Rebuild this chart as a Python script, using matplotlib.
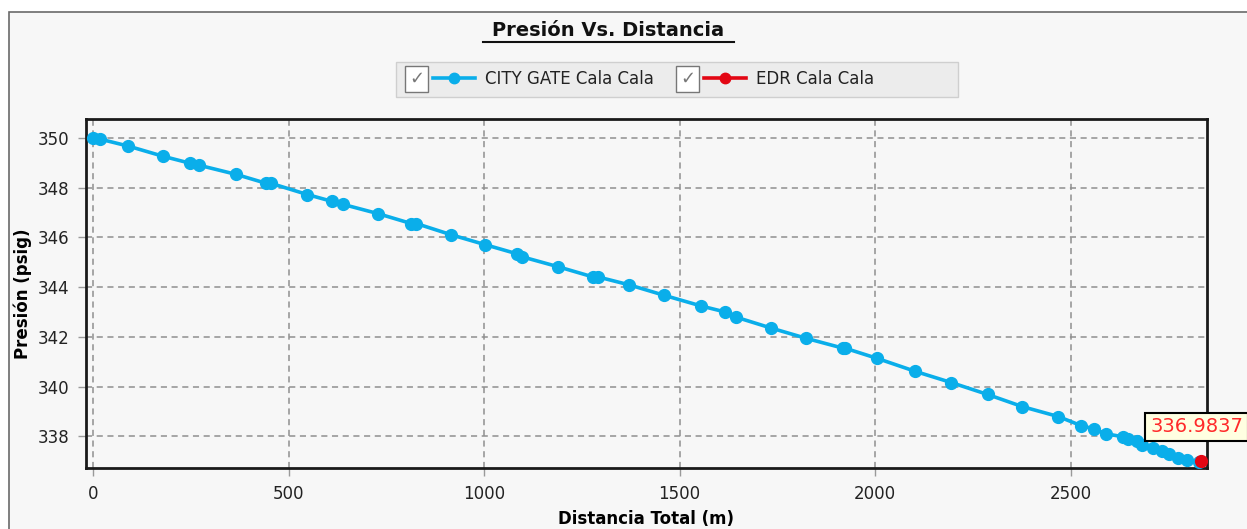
import matplotlib.pyplot as plt
from matplotlib.lines import Line2D
from matplotlib.patches import Rectangle

# data
distancia = [0, 18, 90, 179, 248, 271, 366, 443, 455, 548, 612, 640, 729, 814, 827,
             916, 1003, 1085, 1098, 1190, 1279, 1292, 1372, 1459, 1556, 1617, 1645,
             1735, 1824, 1919, 1924, 2006, 2103, 2195, 2288, 2377, 2469, 2528, 2559,
             2590, 2633, 2648, 2669, 2684, 2710, 2733, 2753, 2774, 2799, 2828]
presion = [350.00, 349.96, 349.68, 349.27, 348.99, 348.91, 348.54, 348.18, 348.18,
           347.73, 347.45, 347.33, 346.96, 346.56, 346.56, 346.11, 345.71, 345.34,
           345.22, 344.82, 344.41, 344.41, 344.09, 343.68, 343.24, 343.00, 342.79,
           342.35, 341.94, 341.54, 341.54, 341.13, 340.61, 340.16, 339.68, 339.19,
           338.79, 338.42, 338.30, 338.10, 337.98, 337.89, 337.81, 337.65, 337.53,
           337.40, 337.28, 337.12, 337.04, 336.98]
edr_dist = [2834]
edr_pres = [336.9837]

azul = '#0aaeea'
rojo = '#e30613'
W, H = 1247, 529

fig = plt.figure(figsize=(W / 100, H / 100), dpi=100, facecolor='white')

def fx(px):
    return px / W

def fy(py):
    return 1 - py / H

# panel background + border (behind everything)
fig.patches.append(Rectangle((fx(9), -0.1), 1.2, fy(12) + 0.1, transform=fig.transFigure,
                             facecolor='#f7f7f7', edgecolor='#6a6a6a', lw=1.2,
                             figure=fig, zorder=-10))

ax = fig.add_axes([fx(86), fy(468), fx(1207) - fx(86), fy(119) - fy(468)])
ax.set_facecolor('#f7f7f7')

ax.plot(distancia, presion, '-o', color=azul, lw=2.6, ms=8.5, zorder=3)
ax.plot(edr_dist, edr_pres, 'o', color=rojo, ms=8.5, zorder=4)

ax.set_xlim(-18, 2849)
ax.set_ylim(336.72, 350.77)
ax.set_xticks([0, 500, 1000, 1500, 2000, 2500])
ax.set_yticks([338, 340, 342, 344, 346, 348, 350])
ax.grid(True, color='#8f8f8f', ls=(0, (4, 3)), lw=1.1)
ax.set_axisbelow(True)
for s in ax.spines.values():
    s.set_linewidth(2)
    s.set_color('#1a1a1a')
ax.tick_params(direction='out', length=6, width=1, color='#9a9a9a',
               labelsize=12, labelcolor='#222222', pad=6)

ax.set_xlabel('Distancia Total (m)', fontsize=12, fontweight='bold', labelpad=5)
ax.set_ylabel('Presión (psig)', fontsize=12, fontweight='bold', labelpad=4)

# value tag at the last point
ax.annotate(f'{edr_pres[0]:.4f}', xy=(edr_dist[0], edr_pres[0]),
            xytext=(1150, H - 427), textcoords='figure pixels',
            fontsize=14, color='#ff2a2a', va='center', ha='left',
            bbox=dict(boxstyle='square,pad=0.25', fc='#ffffe1', ec='black', lw=1.5),
            annotation_clip=False, zorder=6)

# title with underline
fig.text(fx(608), fy(30), 'Presión Vs. Distancia', ha='center', va='center',
         fontsize=14, fontweight='bold', color='#111111')
fig.add_artist(Line2D([fx(483), fx(734)], [fy(42), fy(42)], transform=fig.transFigure,
                      color='#111111', lw=1.5))

# legend strip with checkboxes
fig.add_artist(Rectangle((fx(396), fy(97)), fx(958) - fx(396), fy(62) - fy(97),
                         transform=fig.transFigure, facecolor='#ececec',
                         edgecolor='#cfcfcf', lw=1))
series = [('CITY GATE Cala Cala', azul, 405), ('EDR Cala Cala', rojo, 676)]
for nombre, col, x0 in series:
    fig.add_artist(Rectangle((fx(x0), fy(92)), fx(23), fy(66) - fy(92),
                             transform=fig.transFigure, facecolor='white',
                             edgecolor='#777777', lw=1))
    fig.text(fx(x0 + 11.5), fy(79), '✓', ha='center', va='center',
             fontsize=13, color='#777777')
    fig.add_artist(Line2D([fx(x0 + 28), fx(x0 + 70)], [fy(78), fy(78)],
                          transform=fig.transFigure, color=col, lw=2.6))
    fig.add_artist(Line2D([fx(x0 + 49)], [fy(78)], transform=fig.transFigure,
                          color=col, marker='o', ms=7.5))
    fig.text(fx(x0 + 80), fy(79), nombre, ha='left', va='center',
             fontsize=12, color='#222222')

fig.savefig('out.png', dpi=100, facecolor='white')
